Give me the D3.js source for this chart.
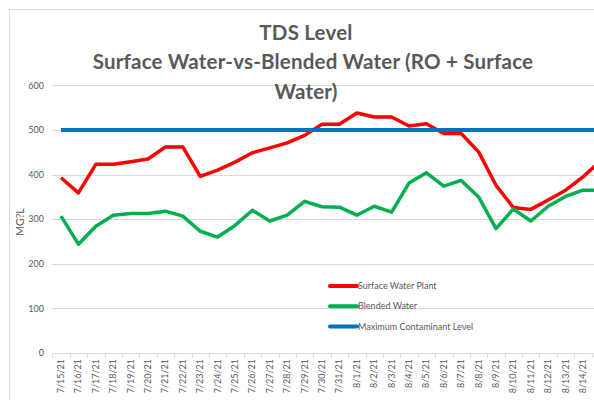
<!DOCTYPE html>
<html><head><meta charset="utf-8">
<script src="https://cdn.jsdelivr.net/npm/d3@7"></script>
<style>
html,body{margin:0;padding:0;background:#fff;overflow:hidden}
svg{display:block}
text{font-family:Lato,"Open Sans",sans-serif}
</style></head>
<body>
<svg id="c" width="594" height="400"></svg>
<script>
const categories = ["7/15/21","7/16/21","7/17/21","7/18/21","7/19/21","7/20/21","7/21/21","7/22/21","7/23/21","7/24/21","7/25/21","7/26/21","7/27/21","7/28/21","7/29/21","7/30/21","7/31/21","8/1/21","8/2/21","8/3/21","8/4/21","8/5/21","8/6/21","8/7/21","8/8/21","8/9/21","8/10/21","8/11/21","8/12/21","8/13/21","8/14/21","8/15/21"];
const surfaceWater = [393,359,423,423,429,435,462,462,396,410,428,449,460,471,488,513,513,538,529,529,509,514,492,492,451,376,326,322,343,365,395,430];
const blendedWater = [307,244,284,309,313,313,318,307,273,260,286,320,296,309,340,328,327,309,329,316,381,404,374,387,350,279,323,296,329,351,365,365];
const mcl = categories.map(() => 500);
const yTicks = [0,100,200,300,400,500,600];
const titleLines = ["TDS Level","Surface Water-vs-Blended Water (RO + Surface","Water)"];
const seriesNames = ["Surface Water Plant","Blended Water","Maximum Contaminant Level"];
const seriesColors = ["#ff0000","#00b050","#0070c0"];

const svg = d3.select("#c");
const grey = "#595959";

// chart border
svg.append("rect").attr("x",9.5).attr("y",9.5).attr("width",700).attr("height",500)
  .attr("fill","none").attr("stroke","#d9d9d9").attr("stroke-width",1);

const step = 17.4;
const x0 = 52.3;
const x = d3.scaleBand().domain(categories).range([x0, x0 + step*categories.length]).padding(0);
const y = d3.scaleLinear().domain([0,600]).range([353,85.4]);
const cx = d => x(d) + x.bandwidth()/2;

// gridlines
svg.append("g").selectAll("line").data(yTicks.filter(t=>t>0)).join("line")
  .attr("x1",x0).attr("x2",640).attr("y1",d=>Math.round(y(d))+0.5).attr("y2",d=>Math.round(y(d))+0.5)
  .attr("stroke","#d9d9d9").attr("stroke-width",1);

// y tick labels
svg.append("g").selectAll("text").data(yTicks).join("text")
  .attr("x",44).attr("y",d=>y(d)).attr("dy","0.35em").attr("text-anchor","end")
  .attr("font-size",9).attr("fill",grey).text(d=>d);

// y axis title
svg.append("text").attr("transform","translate(24,222) rotate(-90)").attr("text-anchor","middle")
  .attr("font-size",10.5).attr("fill",grey).text("MG?L");

// x axis
const xa = svg.append("g").attr("transform","translate(0,353)");
xa.append("line").attr("x1",x0).attr("x2",640).attr("y1",0.5).attr("y2",0.5).attr("stroke","#d9d9d9");
xa.selectAll("line.t").data(categories.concat(["_end"])).join("line").attr("class","t")
  .attr("x1",(d,i)=>Math.round(x0+i*step)+0.5).attr("x2",(d,i)=>Math.round(x0+i*step)+0.5)
  .attr("y1",0).attr("y2",5).attr("stroke","#d9d9d9");
xa.selectAll("text").data(categories.filter(d => cx(d) + 3 < 594)).join("text")
  .attr("transform",d=>`translate(${cx(d)+3},6) rotate(-90)`).attr("text-anchor","end")
  .attr("font-size",9).attr("fill",grey).text(d=>d);

// lines
const line = d3.line().x((d,i)=>cx(categories[i])).y(d=>y(d));
const series = [surfaceWater, blendedWater, mcl];
const widths = [3.5,3.5,4];
series.forEach((s,k)=>{
  svg.append("path").datum(s).attr("d",line).attr("fill","none")
    .attr("stroke",seriesColors[k]).attr("stroke-width",widths[k]).attr("stroke-linejoin","round");
});

// legend
const lg = svg.append("g");
seriesNames.forEach((n,k)=>{
  const ly = 286 + k*20.3;
  lg.append("line").attr("x1",330).attr("x2",357).attr("y1",ly).attr("y2",ly)
    .attr("stroke",seriesColors[k]).attr("stroke-width",4).attr("stroke-linecap","round");
  lg.append("text").attr("x",358).attr("y",ly).attr("dy","0.35em").attr("font-size",9)
    .attr("fill",grey).text(n);
});

// title
const tY = [40,69,99];
titleLines.forEach((t,i)=>{
  svg.append("text").attr("x",i===1?313:306).attr("y",tY[i]).attr("text-anchor","middle")
    .attr("font-size",20.5).attr("letter-spacing",0.2).attr("font-weight",700).attr("fill",grey).text(t);
});
</script>
</body></html>
